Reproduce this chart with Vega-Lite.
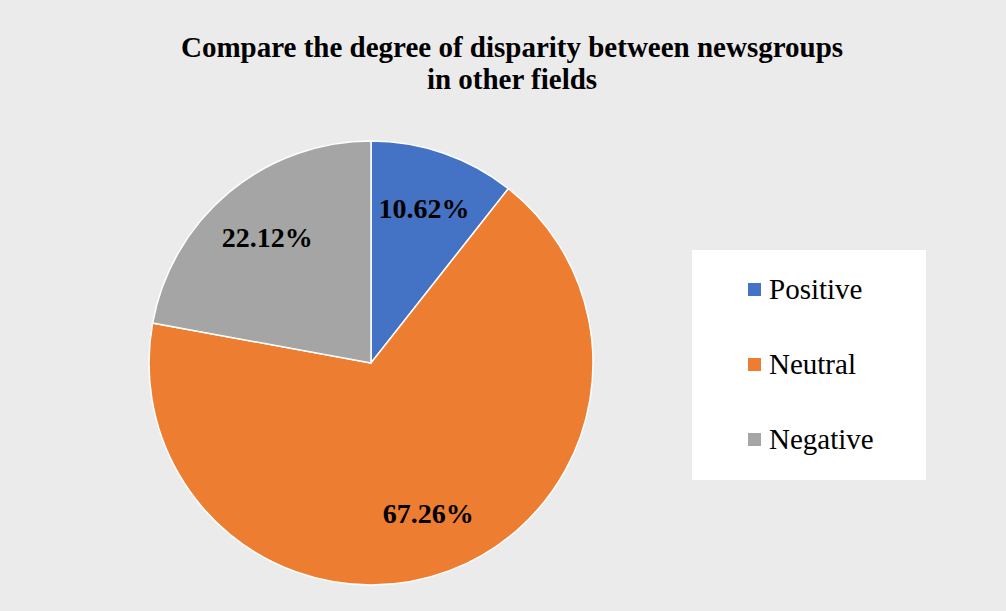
{
  "$schema": "https://vega.github.io/schema/vega-lite/v6.json",
  "width": 444,
  "height": 444,
  "autosize": {"type": "none"},
  "padding": {"left": 149, "top": 141, "right": 413, "bottom": 26},
  "background": "#ebebeb",
  "title": {
    "text": ["Compare the degree of disparity between newsgroups", "in other fields"],
    "font": "Liberation Serif, serif",
    "fontSize": 29,
    "fontWeight": "bold",
    "color": "#000000",
    "anchor": "middle",
    "frame": "group",
    "dx": 141,
    "offset": 43,
    "lineHeight": 32
  },
  "data": {
    "values": [
      {"category": "Positive", "share": 10.62, "rank": 1, "label": "10.62%"},
      {"category": "Neutral", "share": 67.26, "rank": 2, "label": "67.26%"},
      {"category": "Negative", "share": 22.12, "rank": 3, "label": "22.12%"}
    ]
  },
  "encoding": {
    "theta": {"field": "share", "type": "quantitative", "stack": true},
    "order": {"field": "rank", "type": "quantitative", "sort": "ascending"}
  },
  "layer": [
    {
      "mark": {"type": "arc", "outerRadius": 222, "stroke": "#ffffff", "strokeWidth": 1.5},
      "encoding": {
        "color": {
          "field": "category",
          "type": "nominal",
          "scale": {"domain": ["Positive", "Neutral", "Negative"], "range": ["#4472C4", "#ED7D31", "#A5A5A5"]},
          "legend": {
            "title": "\u00a0",
            "titleOrient": "right",
            "titleFontSize": 60,
            "titlePadding": 27,
            "orient": "none",
            "legendX": 543,
            "legendY": 109,
            "fillColor": "#ffffff",
            "padding": 25,
            "symbolType": "square",
            "symbolSize": 169,
            "symbolOffset": 23,
            "symbolStrokeWidth": 0,
            "labelFont": "Liberation Serif, serif",
            "labelFontSize": 29,
            "labelColor": "#000000",
            "labelOffset": 0,
            "rowPadding": 45,
            "labelLimit": 300
          }
        }
      }
    },
    {
      "mark": {"type": "text", "radius": 162, "font": "Liberation Serif, serif", "fontSize": 28, "fontWeight": "bold", "color": "#000000"},
      "encoding": {
        "text": {"field": "label", "type": "nominal"}
      }
    }
  ]
}
